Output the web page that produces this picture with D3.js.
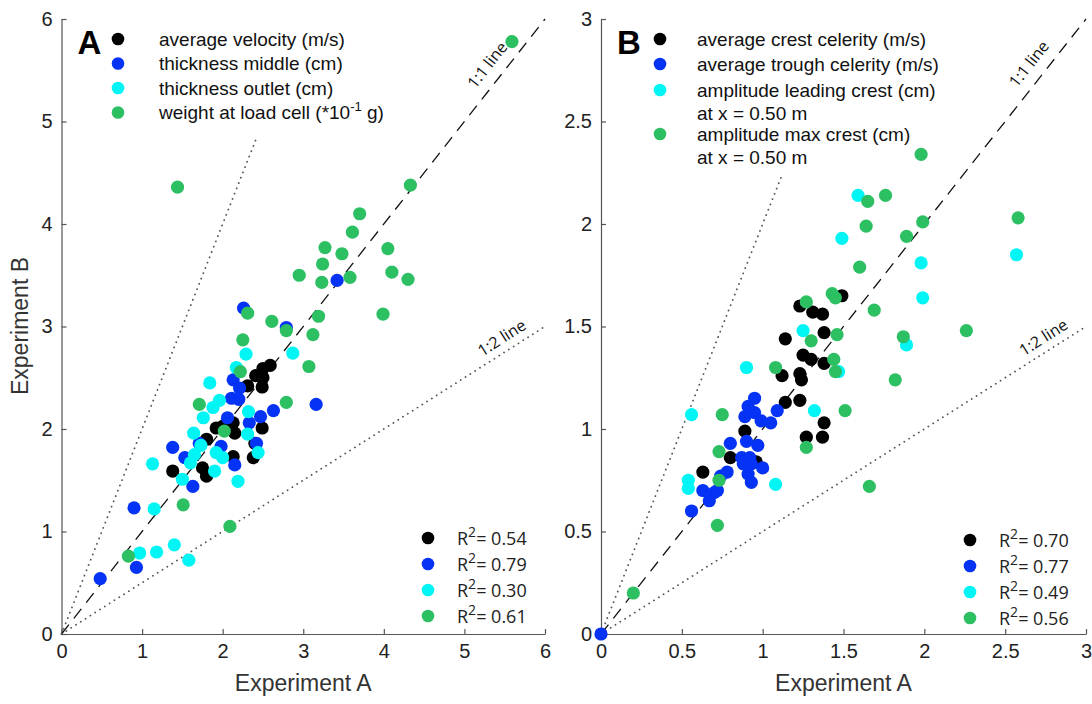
<!DOCTYPE html>
<html>
<head>
<meta charset="utf-8">
<script src="https://cdn.jsdelivr.net/npm/d3@7"></script>
<style>
  html, body { margin: 0; padding: 0; background: #fff; }
  svg { display: block; }
  .tick text { font-family: "Liberation Sans", Arial, sans-serif; font-size: 20px; fill: #222; }
  .axis path, .axis line { stroke: #555; stroke-width: 1.2; }
</style>
</head>
<body>
<svg id="fig" width="1092" height="704"></svg>
<script>
// ---------- Panel A data (Experiment A vs Experiment B) ----------
const legendA = ["average velocity (m/s)", "thickness middle (cm)", "thickness outlet (cm)", "weight at load cell (*10", "-1", " g)"];
const r2A = ["0.54", "0.79", "0.30", "0.61"];
const ticksA = [0, 1, 2, 3, 4, 5, 6];

const velocityA = [
  [2.59, 2.62], [2.50, 2.59], [2.41, 2.52], [2.50, 2.50], [2.31, 2.42], [2.49, 2.41],
  [1.92, 2.01], [2.01, 2.03], [2.13, 2.06], [2.15, 1.96], [2.49, 2.01], [2.40, 1.86],
  [1.80, 1.90], [1.75, 1.62], [1.80, 1.54], [2.13, 1.73], [2.38, 1.72], [1.38, 1.59]
];
const thickMiddleA = [
  [2.26, 3.18], [3.42, 3.45], [2.79, 2.99], [2.13, 2.48], [2.21, 2.40], [2.11, 2.30],
  [2.20, 2.29], [2.63, 2.18], [3.16, 2.24], [2.06, 2.11], [2.47, 2.12], [2.33, 2.06],
  [2.42, 1.86], [1.38, 1.82], [1.71, 1.86], [1.53, 1.72], [1.98, 1.83], [2.15, 1.65],
  [1.63, 1.44], [0.90, 1.23], [0.48, 0.54], [0.93, 0.65]
];
const thickOutletA = [
  [2.87, 2.74], [2.29, 2.73], [2.17, 2.60], [1.84, 2.45], [1.96, 2.28], [1.88, 2.21],
  [1.76, 2.11], [2.32, 2.17], [2.31, 1.95], [1.64, 1.96], [1.73, 1.84], [2.44, 1.77],
  [1.92, 1.77], [2.00, 1.72], [1.65, 1.75], [1.60, 1.67], [1.13, 1.66], [1.90, 1.59],
  [1.50, 1.51], [2.19, 1.49], [1.15, 1.22], [0.97, 0.79], [1.18, 0.80], [1.40, 0.87],
  [1.58, 0.72]
];
const weightA = [
  [5.59, 5.78], [1.44, 4.36], [4.33, 4.38], [3.70, 4.10], [3.61, 3.92], [3.27, 3.77],
  [3.48, 3.71], [4.05, 3.76], [3.24, 3.61], [2.95, 3.50], [3.23, 3.43], [3.58, 3.48],
  [4.10, 3.53], [4.30, 3.46], [3.99, 3.12], [3.19, 3.10], [2.79, 2.96], [3.12, 2.92],
  [3.07, 2.61], [2.31, 3.13], [2.61, 3.05], [2.25, 2.87], [2.22, 2.56], [1.71, 2.24],
  [2.79, 2.26], [2.02, 1.98], [1.51, 1.26], [0.83, 0.76], [2.09, 1.05]
];

// ---------- Panel B data ----------
const legendB = [
  ["average crest celerity (m/s)"],
  ["average trough celerity (m/s)"],
  ["amplitude leading crest (cm)", "at x = 0.50 m"],
  ["amplitude max crest (cm)", "at x = 0.50 m"]
];
const r2B = ["0.70", "0.77", "0.49", "0.56"];
const ticksB = [0, 0.5, 1, 1.5, 2, 2.5, 3];

const crestB = [
  [1.49, 1.65], [1.23, 1.60], [1.31, 1.57], [1.37, 1.56], [1.14, 1.44], [1.38, 1.47],
  [1.25, 1.36], [1.30, 1.34], [1.38, 1.32], [1.12, 1.26], [1.23, 1.27], [1.24, 1.24],
  [1.14, 1.13], [1.23, 1.14], [1.38, 1.03], [1.27, 0.96], [1.37, 0.96], [0.89, 0.99],
  [0.80, 0.86], [0.96, 0.84], [0.63, 0.79]
];
const troughB = [
  [0.95, 1.15], [0.91, 1.11], [0.95, 1.08], [0.89, 1.06], [1.09, 1.09], [0.99, 1.04],
  [1.05, 1.03], [0.80, 0.93], [0.90, 0.94], [0.97, 0.92], [0.87, 0.86], [0.92, 0.86],
  [0.88, 0.83], [0.93, 0.83], [1.00, 0.81], [0.91, 0.78], [0.93, 0.74], [0.78, 0.79],
  [0.74, 0.77], [0.63, 0.70], [0.70, 0.69], [0.67, 0.65], [0.56, 0.60], [0.72, 0.70],
  [0.00, 0.00]
];
const leadingB = [
  [1.25, 1.48], [0.90, 1.30], [0.56, 1.07], [1.32, 1.09], [0.54, 0.75], [0.54, 0.71],
  [1.08, 0.73], [1.59, 2.14], [1.49, 1.93], [1.98, 1.81], [1.99, 1.64], [2.57, 1.85],
  [1.89, 1.41], [1.47, 1.28]
];
const maxCrestB = [
  [1.65, 2.11], [1.76, 2.14], [2.58, 2.03], [1.64, 1.99], [1.89, 1.94], [1.99, 2.01],
  [1.60, 1.79], [1.43, 1.66], [1.45, 1.64], [1.69, 1.58], [2.26, 1.48], [1.87, 1.45],
  [1.46, 1.46], [1.44, 1.34], [1.45, 1.28], [1.82, 1.24], [1.51, 1.09], [1.98, 2.34],
  [1.27, 1.62], [1.30, 1.43], [1.08, 1.30], [0.75, 1.07], [1.27, 0.91], [0.73, 0.89],
  [0.73, 0.75], [0.72, 0.53], [0.20, 0.20], [1.66, 0.72]
];

const colors = ["#000000", "#0433f5", "#00f5f5", "#2cc063"];
const labelFont = "\"Liberation Sans\", Arial, sans-serif";
const noteFont = "\"Open Sans\", \"Noto Sans\", sans-serif";

const svg = d3.select("#fig");

function drawPanel(opt) {
  const x = d3.scaleLinear().domain([0, opt.max]).range(opt.xRange);
  const y = d3.scaleLinear().domain([0, opt.max]).range([634, 19]);
  const g = svg.append("g");

  // axes with inward ticks
  g.append("g").attr("class", "axis")
    .attr("transform", `translate(0,${y(0)})`)
    .call(d3.axisBottom(x).tickValues(opt.ticks).tickSize(-5).tickSizeOuter(0).tickPadding(10)
      .tickFormat(d3.format("~g")));
  g.append("g").attr("class", "axis")
    .attr("transform", `translate(${x(0)},0)`)
    .call(d3.axisLeft(y).tickValues(opt.ticks).tickSize(-5).tickSizeOuter(0).tickPadding(9)
      .tickFormat(d3.format("~g")));

  // reference lines
  g.append("line")
    .attr("x1", x(0)).attr("y1", y(0)).attr("x2", x(opt.max)).attr("y2", y(opt.max))
    .attr("stroke", "#111").attr("stroke-width", 1.3).attr("stroke-dasharray", "12,8");
  g.append("line")
    .attr("x1", x(0)).attr("y1", y(0)).attr("x2", x(opt.steepEnd)).attr("y2", y(2 * opt.steepEnd))
    .attr("stroke", "#555").attr("stroke-width", 1.8).attr("stroke-linecap", "round")
    .attr("stroke-dasharray", "0.1,5.6");
  g.append("line")
    .attr("x1", x(0)).attr("y1", y(0)).attr("x2", x(opt.max)).attr("y2", y(opt.max / 2))
    .attr("stroke", "#555").attr("stroke-width", 1.8).attr("stroke-linecap", "round")
    .attr("stroke-dasharray", "0.1,5.6");

  // line labels
  const a1 = -Math.atan2(y(0) - y(1), x(1) - x(0)) * 180 / Math.PI;
  const a2 = -Math.atan2(y(0) - y(0.5), x(1) - x(0)) * 180 / Math.PI;
  const p1 = [x(opt.oneOneAt), y(opt.oneOneAt)];
  g.append("text")
    .attr("transform", `translate(${p1[0] - 9},${p1[1] - 7}) rotate(${a1})`)
    .attr("text-anchor", "middle").attr("font-family", noteFont).attr("font-size", 16).attr("fill", "#111")
    .text("1:1 line");
  const p2 = [x(opt.oneTwoAt), y(opt.oneTwoAt / 2)];
  g.append("text")
    .attr("transform", `translate(${p2[0] - 4},${p2[1] - 7}) rotate(${a2})`)
    .attr("text-anchor", "middle").attr("font-family", noteFont).attr("font-size", 16).attr("fill", "#111")
    .text("1:2 line");

  // data points
  opt.series.forEach((s, i) => {
    g.append("g").selectAll("circle").data(s).join("circle")
      .attr("cx", d => x(d[0])).attr("cy", d => y(d[1])).attr("r", 6.6)
      .attr("fill", colors[i]);
  });

  // axis titles
  g.append("text")
    .attr("x", (opt.xRange[0] + opt.xRange[1]) / 2).attr("y", 691)
    .attr("text-anchor", "middle").attr("font-family", labelFont).attr("font-size", 23).attr("fill", "#333")
    .text("Experiment A");

  // panel letter
  g.append("text")
    .attr("x", opt.xRange[0] + 16).attr("y", 54)
    .attr("font-family", labelFont).attr("font-weight", "bold").attr("font-size", 33).attr("fill", "#000")
    .text(opt.letter);

  // R^2 legend
  opt.r2.forEach((v, i) => {
    const cy = opt.r2Y + i * 26;
    g.append("circle").attr("cx", opt.r2X).attr("cy", cy).attr("r", 6.3).attr("fill", colors[i]);
    const t = g.append("text").attr("x", opt.r2X + 29).attr("y", cy + 7)
      .attr("font-family", noteFont).attr("font-size", 18).attr("fill", "#222");
    t.append("tspan").text("R");
    t.append("tspan").attr("dy", -8).attr("font-size", 14).text("2");
    t.append("tspan").attr("dy", 8).text("= " + v);
  });
  return { x, y, g };
}

// Panel A
const A = drawPanel({
  max: 6, xRange: [61.5, 545], ticks: ticksA, letter: "A", steepEnd: 2.42,
  oneOneAt: 5.45, oneTwoAt: 5.55,
  series: [velocityA, thickMiddleA, thickOutletA, weightA],
  r2: r2A, r2X: 428, r2Y: 538
});
// Panel A series legend
[0, 1, 2, 3].forEach(i => {
  const cy = 39 + i * 24.5;
  A.g.append("circle").attr("cx", 118).attr("cy", cy).attr("r", 6.3).attr("fill", colors[i]);
  const t = A.g.append("text").attr("x", 159).attr("y", cy + 6.5)
    .attr("font-family", labelFont).attr("font-size", 19).attr("fill", "#111");
  if (i < 3) {
    t.text(legendA[i]);
  } else {
    t.append("tspan").text(legendA[3]);
    t.append("tspan").attr("dy", -8).attr("font-size", 13).text(legendA[4]);
    t.append("tspan").attr("dy", 8).text(legendA[5]);
  }
});
// y-axis title
svg.append("text")
  .attr("transform", "translate(28,326) rotate(-90)")
  .attr("text-anchor", "middle").attr("font-family", labelFont).attr("font-size", 23).attr("fill", "#333")
  .text("Experiment B");

// Panel B
const B = drawPanel({
  max: 3, xRange: [601, 1086], ticks: ticksB, letter: "B", steepEnd: 1.12,
  oneOneAt: 2.73, oneTwoAt: 2.78,
  series: [crestB, troughB, leadingB, maxCrestB],
  r2: r2B, r2X: 970, r2Y: 540
});
// Panel B series legend
const rowsB = [39, 64, 90, 134];
legendB.forEach((lines, i) => {
  const cy = rowsB[i];
  B.g.append("circle").attr("cx", 660).attr("cy", cy).attr("r", 6.3).attr("fill", colors[i]);
  lines.forEach((ln, j) => {
    B.g.append("text").attr("x", 697).attr("y", cy + 6.5 + j * 23)
      .attr("font-family", labelFont).attr("font-size", 19).attr("fill", "#111")
      .text(ln);
  });
});
</script>
</body>
</html>
